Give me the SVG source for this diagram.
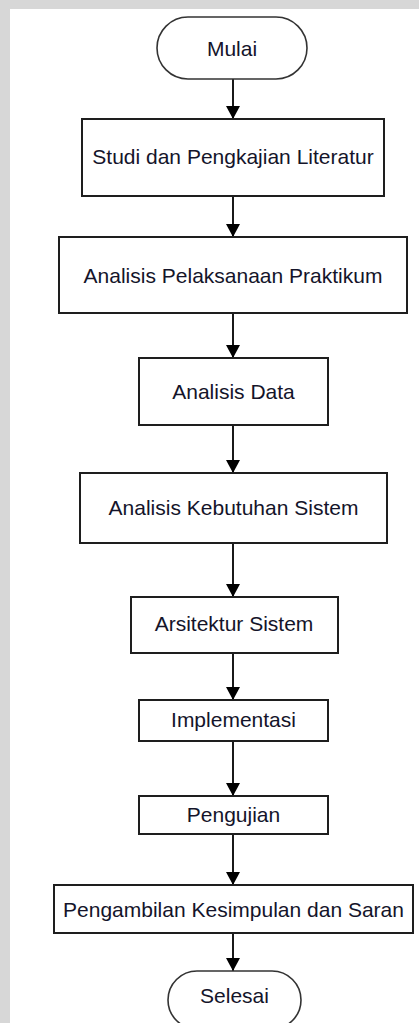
<svg xmlns="http://www.w3.org/2000/svg" width="419" height="1023" viewBox="0 0 419 1023">
  <style>
    .box { fill: #ffffff; stroke: #1e1e1e; stroke-width: 2; }
    .term { fill: #ffffff; stroke: #333333; stroke-width: 1.6; }
    .label { font-family: "Liberation Sans", Arial, sans-serif; font-size: 21px; fill: #14142a; text-anchor: middle; }
    .edge { stroke: #000000; stroke-width: 1.8; fill: none; marker-end: url(#head); }
  </style>
  <defs>
    <marker id="head" viewBox="0 0 13 14" refX="13" refY="7" markerWidth="13" markerHeight="14" markerUnits="userSpaceOnUse" orient="auto">
      <path d="M0,0 L13,7 L0,14 Z" fill="#000000"/>
    </marker>
  </defs>

  <!-- page background with grey margin -->
  <rect x="0" y="0" width="419" height="1023" fill="#d7d7d7"/>
  <rect x="10" y="9" width="409" height="1014" fill="#ffffff"/>

  <g id="connectors">
    <line class="edge" x1="233" y1="79" x2="233" y2="119"/>
    <line class="edge" x1="233" y1="196" x2="233" y2="237"/>
    <line class="edge" x1="233" y1="313" x2="233" y2="358"/>
    <line class="edge" x1="233" y1="425" x2="233" y2="473"/>
    <line class="edge" x1="233" y1="543" x2="233" y2="597"/>
    <line class="edge" x1="233" y1="653" x2="233" y2="700"/>
    <line class="edge" x1="233" y1="741" x2="233" y2="796"/>
    <line class="edge" x1="233" y1="834" x2="233" y2="885"/>
    <line class="edge" x1="233" y1="933" x2="233" y2="971"/>
  </g>

  <g id="mulai">
    <rect class="term" x="157" y="17" width="150" height="62" rx="31" ry="31"/>
    <text class="label" x="232" y="56">Mulai</text>
  </g>

  <g id="studi">
    <rect class="box" x="82" y="119" width="302" height="77"/>
    <text class="label" x="233" y="164">Studi dan Pengkajian Literatur</text>
  </g>

  <g id="analisis-praktikum">
    <rect class="box" x="59" y="237" width="348" height="76"/>
    <text class="label" x="233" y="283">Analisis Pelaksanaan Praktikum</text>
  </g>

  <g id="analisis-data">
    <rect class="box" x="139" y="358" width="189" height="67"/>
    <text class="label" x="233.5" y="399">Analisis Data</text>
  </g>

  <g id="analisis-kebutuhan">
    <rect class="box" x="80" y="473" width="307" height="70"/>
    <text class="label" x="233.5" y="515">Analisis Kebutuhan Sistem</text>
  </g>

  <g id="arsitektur">
    <rect class="box" x="131" y="597" width="207" height="56"/>
    <text class="label" x="234" y="631">Arsitektur Sistem</text>
  </g>

  <g id="implementasi">
    <rect class="box" x="139" y="700" width="189" height="41"/>
    <text class="label" x="233.5" y="727">Implementasi</text>
  </g>

  <g id="pengujian">
    <rect class="box" x="139" y="796" width="189" height="38"/>
    <text class="label" x="233.5" y="822">Pengujian</text>
  </g>

  <g id="kesimpulan">
    <rect class="box" x="54" y="885" width="359" height="48"/>
    <text class="label" x="233.5" y="917">Pengambilan Kesimpulan dan Saran</text>
  </g>

  <g id="selesai">
    <rect class="term" x="168" y="971" width="133" height="58" rx="29" ry="29"/>
    <text class="label" x="234.5" y="1003">Selesai</text>
  </g>
</svg>
